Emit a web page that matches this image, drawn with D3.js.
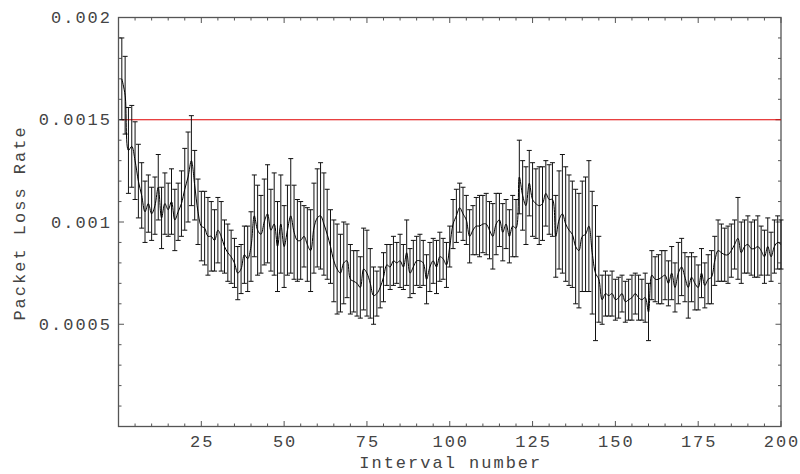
<!DOCTYPE html>
<html>
<head>
<meta charset="utf-8">
<script src="https://cdn.jsdelivr.net/npm/d3@7"></script>
<style>
body { margin: 0; background: #fff; }
text { font-family: "Liberation Mono", monospace; }
</style>
</head>
<body>
<svg class="chart"></svg>
<script>
const size = {w: 800, h: 474};
const margin = {left: 118.5, right: 19, top: 17.5, bottom: 47.5};

// mean packet loss rate per interval, in units of 1e-3
const lossRate = [
    1.70, 1.62, 1.35, 1.37, 1.30, 1.20, 1.13, 1.05, 1.09, 1.04,
    1.08, 1.17, 1.02, 1.09, 1.06, 1.10, 1.01, 1.05, 1.09, 1.16,
    1.22, 1.30, 1.18, 1.05, 0.98, 0.97, 0.93, 0.93, 0.91, 0.96,
    0.93, 0.88, 0.85, 0.83, 0.80, 0.75, 0.77, 0.84, 0.82, 0.88,
    1.03, 0.96, 0.94, 1.00, 1.04, 0.96, 0.99, 0.88, 0.99, 0.88,
    0.96, 1.03, 0.95, 0.91, 0.91, 0.93, 0.89, 0.86, 0.97, 1.02,
    1.03, 0.99, 0.94, 0.88, 0.81, 0.77, 0.75, 0.80, 0.81, 0.72,
    0.71, 0.70, 0.68, 0.77, 0.75, 0.70, 0.64, 0.65, 0.68, 0.73,
    0.79, 0.78, 0.81, 0.80, 0.81, 0.78, 0.85, 0.75, 0.78, 0.81,
    0.81, 0.80, 0.72, 0.78, 0.81, 0.78, 0.83, 0.82, 0.79, 0.88,
    0.99, 1.03, 1.07, 1.04, 1.01, 0.93, 0.96, 0.98, 0.98, 0.99,
    0.99, 0.96, 0.93, 0.99, 1.01, 0.95, 0.99, 0.93, 0.98, 0.97,
    1.22, 1.13, 1.08, 1.19, 1.11, 1.09, 1.08, 1.09, 1.14, 1.11,
    1.11, 0.93, 1.01, 1.04, 0.99, 0.96, 0.94, 0.88, 0.86, 0.93,
    0.94, 0.98, 0.85, 0.75, 0.72, 0.62, 0.65, 0.64, 0.65, 0.62,
    0.63, 0.65, 0.61, 0.62, 0.63, 0.65, 0.63, 0.62, 0.63, 0.56,
    0.74, 0.72, 0.72, 0.73, 0.74, 0.70, 0.75, 0.68, 0.75, 0.78,
    0.73, 0.68, 0.73, 0.70, 0.68, 0.75, 0.69, 0.72, 0.73, 0.81,
    0.86, 0.85, 0.84, 0.84, 0.86, 0.89, 0.92, 0.85, 0.88, 0.89,
    0.87, 0.87, 0.88, 0.86, 0.83, 0.88, 0.83, 0.88, 0.90, 0.89
];

// half length of each error bar, same units
const errHalf = [
    0.20, 0.19, 0.21, 0.20, 0.19, 0.18, 0.16, 0.15, 0.14, 0.13,
    0.14, 0.16, 0.15, 0.15, 0.13, 0.16, 0.15, 0.14, 0.16, 0.20,
    0.22, 0.22, 0.17, 0.16, 0.17, 0.18, 0.19, 0.17, 0.15, 0.16,
    0.17, 0.13, 0.14, 0.13, 0.12, 0.13, 0.12, 0.14, 0.16, 0.17,
    0.20, 0.22, 0.19, 0.21, 0.24, 0.20, 0.25, 0.22, 0.24, 0.20,
    0.22, 0.28, 0.23, 0.20, 0.19, 0.15, 0.18, 0.20, 0.22, 0.24,
    0.26, 0.25, 0.22, 0.18, 0.20, 0.22, 0.19, 0.20, 0.18, 0.17,
    0.15, 0.16, 0.15, 0.20, 0.21, 0.17, 0.14, 0.11, 0.10, 0.12,
    0.10, 0.11, 0.12, 0.10, 0.13, 0.11, 0.16, 0.12, 0.13, 0.12,
    0.13, 0.11, 0.12, 0.12, 0.11, 0.13, 0.12, 0.10, 0.11, 0.10,
    0.12, 0.13, 0.12, 0.13, 0.12, 0.13, 0.12, 0.14, 0.15, 0.14,
    0.15, 0.14, 0.16, 0.15, 0.13, 0.14, 0.12, 0.13, 0.15, 0.14,
    0.18, 0.17, 0.19, 0.16, 0.18, 0.17, 0.19, 0.18, 0.16, 0.17,
    0.18, 0.20, 0.24, 0.29, 0.28, 0.27, 0.26, 0.28, 0.28, 0.27,
    0.28, 0.32, 0.30, 0.33, 0.21, 0.12, 0.11, 0.10, 0.11, 0.10,
    0.10, 0.09, 0.10, 0.10, 0.11, 0.10, 0.11, 0.10, 0.12, 0.14,
    0.12, 0.11, 0.12, 0.13, 0.12, 0.11, 0.13, 0.12, 0.15, 0.14,
    0.12, 0.15, 0.12, 0.13, 0.11, 0.12, 0.11, 0.12, 0.13, 0.12,
    0.15, 0.14, 0.13, 0.14, 0.13, 0.12, 0.20, 0.15, 0.13, 0.14,
    0.13, 0.14, 0.15, 0.12, 0.13, 0.14, 0.12, 0.13, 0.13, 0.12
];

const threshold = 0.0015;
const xTicks = [25, 50, 75, 100, 125, 150, 175, 200];
const yTicks = [0.0005, 0.001, 0.0015, 0.002];
const yTickLabels = ['0.0005', '0.001', '0.0015', '0.002'];

const points = lossRate.map((v, i) => ({
    n: i + 1,
    v: v / 1000,
    lo: (v - errHalf[i]) / 1000,
    hi: (v + errHalf[i]) / 1000
}));

const svg = d3.select('svg.chart')
    .attr('width', size.w)
    .attr('height', size.h);

const x = d3.scaleLinear()
    .domain([0, 200])
    .range([margin.left, size.w - margin.right]);
const y = d3.scaleLinear()
    .domain([0, 0.002])
    .range([size.h - margin.bottom, margin.top]);

const axisColor = '#555';
const minorX = d3.range(0, 201, 5).filter(d => d % 25 !== 0);
const minorY = d3.range(1, 20).map(d => d / 10000).filter(d => Math.round(d * 10000) % 5 !== 0);

// frame ticks, all pointing inward
function tickMarks(vals, len, cls) {
    const g = svg.append('g').attr('class', cls).attr('stroke', axisColor).attr('stroke-width', 1);
    const [x0, x1] = x.range();
    const [y0, y1] = y.range();
    g.selectAll('line.b').data(vals.x || []).join('line').attr('class', 'b')
        .attr('x1', d => x(d)).attr('x2', d => x(d)).attr('y1', y0).attr('y2', y0 - len);
    g.selectAll('line.t').data(vals.x || []).join('line').attr('class', 't')
        .attr('x1', d => x(d)).attr('x2', d => x(d)).attr('y1', y1).attr('y2', y1 + len);
    g.selectAll('line.l').data(vals.y || []).join('line').attr('class', 'l')
        .attr('y1', d => y(d)).attr('y2', d => y(d)).attr('x1', x0).attr('x2', x0 + len);
    g.selectAll('line.r').data(vals.y || []).join('line').attr('class', 'r')
        .attr('y1', d => y(d)).attr('y2', d => y(d)).attr('x1', x1).attr('x2', x1 - len);
}
tickMarks({x: minorX, y: minorY}, 3, 'minor');
tickMarks({x: xTicks, y: yTicks}, 5.5, 'major');

// frame
svg.append('rect')
    .attr('x', x(0)).attr('y', y(0.002))
    .attr('width', x(200) - x(0)).attr('height', y(0) - y(0.002))
    .attr('fill', 'none').attr('stroke', axisColor).attr('stroke-width', 1.3);

// tick labels
svg.append('g').selectAll('text').data(xTicks).join('text')
    .attr('x', d => x(d) + 1).attr('y', y(0) + 20.5)
    .attr('text-anchor', 'middle')
    .attr('font-size', 17).attr('letter-spacing', 2).attr('fill', '#444')
    .text(d => d);
svg.append('g').selectAll('text').data(yTicks).join('text')
    .attr('x', 112).attr('y', d => y(d) + 5.5)
    .attr('text-anchor', 'end')
    .attr('font-size', 17).attr('letter-spacing', 2).attr('fill', '#444')
    .text((d, i) => yTickLabels[i]);

// axis titles
svg.append('text')
    .attr('x', (x(0) + x(200)) / 2 + 1).attr('y', 468)
    .attr('text-anchor', 'middle')
    .attr('font-size', 17).attr('letter-spacing', 2).attr('fill', '#444')
    .text('Interval number');
svg.append('text')
    .attr('transform', `translate(25,${(y(0) + y(0.002)) / 2 + 1}) rotate(-90)`)
    .attr('text-anchor', 'middle')
    .attr('font-size', 17).attr('letter-spacing', 2).attr('fill', '#444')
    .text('Packet Loss Rate');

// threshold line
svg.append('line')
    .attr('x1', x(1)).attr('x2', x(200))
    .attr('y1', y(threshold)).attr('y2', y(threshold))
    .attr('stroke', '#e00000').attr('stroke-width', 1.2);

// error bars
const bars = svg.append('g').attr('stroke', '#111').attr('stroke-width', 1);
bars.selectAll('line.v').data(points).join('line').attr('class', 'v')
    .attr('x1', d => x(d.n)).attr('x2', d => x(d.n))
    .attr('y1', d => y(d.lo)).attr('y2', d => y(d.hi));
bars.selectAll('line.hi').data(points).join('line').attr('class', 'hi')
    .attr('x1', d => x(d.n) - 2.5).attr('x2', d => x(d.n) + 2.5)
    .attr('y1', d => y(d.hi)).attr('y2', d => y(d.hi));
bars.selectAll('line.lo').data(points).join('line').attr('class', 'lo')
    .attr('x1', d => x(d.n) - 2.5).attr('x2', d => x(d.n) + 2.5)
    .attr('y1', d => y(d.lo)).attr('y2', d => y(d.lo));

// mean line
const lineFn = d3.line()
    .x(d => x(d.n))
    .y(d => y(d.v))
    .curve(d3.curveCatmullRom);
svg.append('path')
    .datum(points)
    .attr('d', lineFn)
    .attr('fill', 'none')
    .attr('stroke', '#000')
    .attr('stroke-width', 1);
</script>
</body>
</html>
